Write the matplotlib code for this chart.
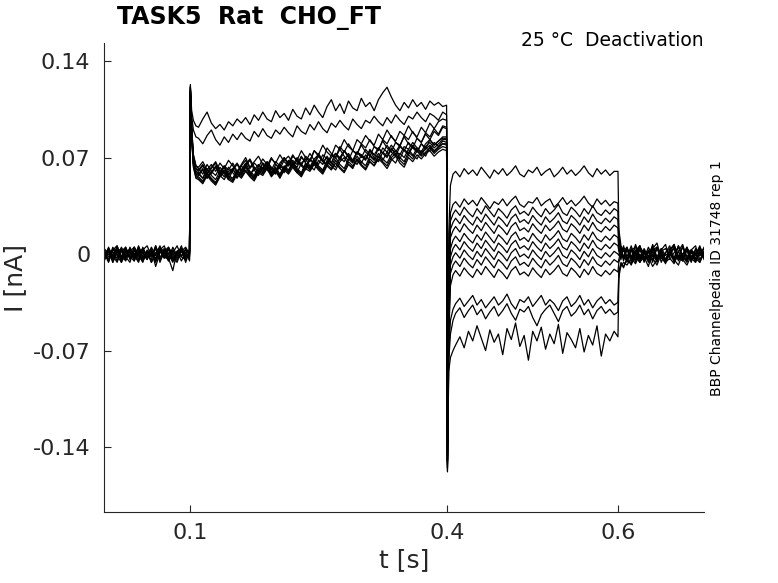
import numpy as np
import matplotlib
matplotlib.use('Agg')
import matplotlib.pyplot as plt

# time grid of each protocol segment, in ms
t_base = [0, 5, 10, 15, 20, 25, 30, 35, 40, 45, 50, 55, 60, 65, 70, 75, 80, 85,
          90, 95, 99.5]
t_act = [100.5, 102, 104, 107,
         110, 115, 120, 125, 130, 135, 140, 145, 150, 155, 160, 165, 170, 175,
         180, 185, 190, 195, 200, 205, 210, 215, 220, 225, 230, 235, 240, 245,
         250, 255, 260, 265, 270, 275, 280, 285, 290, 295, 300, 305, 310, 315,
         320, 325, 330, 335, 340, 345, 350, 355, 360, 365, 370, 375, 380, 385,
         390, 395, 399.5]
t_deact = [400.5, 402, 404, 407,
           410, 415, 420, 425, 430, 435, 440, 445, 450, 455, 460, 465, 470,
           475, 480, 485, 490, 495, 500, 505, 510, 515, 520, 525, 530, 535,
           540, 545, 550, 555, 560, 565, 570, 575, 580, 585, 590, 595, 599.5]
t_tail = [600.5, 603, 606, 610, 615, 620, 625, 630, 635, 640, 645, 650, 655,
          660, 665, 670, 675, 680, 685, 690, 695, 700]

# currents in pA, one row per sweep
base_pA = [
    [2, -4, 5, -1, -6, 3, 1, -3, 6, -2, 0, 4, -5, 2, -1, 5, -3, -6, 3, 1, -2],
    [-3, 4, -1, -6, 2, 5, -2, 0, -5, 3, 6, -1, -4, 2, -3, 4, 1, -5, 3, -2, 1],
    [1, -5, 3, 6, -2, -4, 2, 5, -1, -6, 3, 0, -3, 4, 2, -5, 1, 6, -2, -4, 2],
    [-2, 3, -6, 1, 4, -3, 2, -5, 5, 0, -4, 3, -1, 6, -3, 1, -5, 2, 4, -2, 0],
    [4, 0, -3, 6, -5, 2, -1, 3, -4, 5, -2, 1, -6, 3, 0, -3, 5, -1, 2, -4, 1],
    [-5, 2, 1, -3, 5, -2, 4, -1, -6, 3, 0, -4, 6, -2, 1, -5, 3, -3, 2, 5, 0],
    [2, -5, 4, 0, -3, 5, -4, 2, 3, -5, 1, -2, 4, -6, 2, 5, -1, -3, 3, 0, -4],
    [-1, 3, -6, 4, 2, -4, 5, -2, 0, 4, -3, 1, -5, 3, 6, -2, -4, 1, 3, -6, 2],
    [3, -2, 2, -5, 4, 1, -3, 5, -2, -4, 2, -6, 0, 3, -1, 4, -3, 2, -5, 1, 3],
    [-4, 5, -2, 3, -1, -5, 3, 0, 4, -3, 2, -6, 1, 5, -2, -4, 3, -1, 6, -3, 1],
    [1, -6, 3, 2, -4, 4, -2, -5, 2, 1, -3, 5, -1, -4, 3, 0, -6, 2, 4, -2, -1],
    [-3, 2, -1, 5, -6, 0, 4, -3, 1, -5, 2, -2, 6, -4, 0, 3, -5, 1, -2, 4, -1],
    [0, 4, -4, 1, 3, -2, -6, 5, -1, 2, -4, 3, -9, 1, 4, -3, -12, 2, -1, 3, -5],
]
act_pA = [
    [121, 104, 97, 93,
     92, 98, 103, 95, 91, 94, 90, 96, 93, 98, 95, 99, 94, 101, 97, 103, 98, 96, 104, 99,
     102, 97, 105, 100, 98, 106, 101, 108, 103, 99, 107, 112, 104, 109, 102, 111, 106, 104, 113, 107,
     110, 104, 112, 117, 121, 114, 108, 104, 110, 106, 112, 107, 110, 105, 111, 108, 110, 107, 108],
    [119, 100, 90, 85,
     84, 80, 86, 90, 83, 79, 85, 81, 87, 83, 88, 84, 82, 89, 85, 91, 86, 84, 90, 87,
     92, 88, 85, 93, 89, 87, 94, 90, 96, 91, 88, 95, 92, 97, 93, 90, 98, 94, 91, 97,
     95, 100, 96, 93, 99, 95, 101, 97, 94, 100, 98, 103, 99, 96, 102, 100, 97, 103, 101],
    [122, 92, 72, 64,
     62, 58, 65, 60, 63, 57, 64, 61, 66, 60, 64, 68, 62, 66, 63, 69, 65, 61, 67, 64,
     70, 66, 72, 67, 64, 71, 68, 75, 71, 68, 77, 73, 70, 78, 74, 80, 75, 72, 80, 77,
     83, 78, 75, 83, 80, 86, 81, 78, 86, 83, 89, 84, 81, 88, 85, 91, 87, 93, 92],
    [120, 90, 68, 60,
     58, 62, 55, 60, 57, 63, 59, 54, 61, 58, 64, 60, 57, 63, 59, 66, 61, 58, 65, 62,
     59, 66, 63, 68, 64, 61, 69, 65, 71, 67, 64, 70, 73, 68, 75, 71, 67, 74, 70, 76,
     72, 69, 77, 73, 79, 74, 71, 78, 75, 81, 77, 74, 80, 76, 83, 79, 82, 84, 84],
    [118, 88, 69, 62,
     60, 64, 58, 62, 66, 59, 63, 57, 61, 65, 60, 64, 68, 61, 65, 62, 67, 63, 60, 66,
     70, 64, 68, 65, 71, 66, 63, 69, 72, 67, 70, 66, 73, 69, 75, 70, 67, 74, 71, 68,
     75, 72, 77, 73, 70, 76, 74, 79, 75, 72, 78, 74, 80, 77, 75, 81, 78, 82, 81],
    [117, 86, 65, 57,
     56, 53, 59, 55, 52, 58, 61, 56, 54, 60, 57, 63, 58, 55, 61, 59, 64, 58, 62, 57,
     63, 60, 66, 61, 58, 65, 62, 67, 63, 60, 68, 64, 61, 67, 70, 65, 62, 69, 66, 72,
     67, 64, 71, 68, 74, 69, 66, 73, 70, 76, 72, 69, 75, 71, 78, 74, 77, 80, 80],
    [121, 89, 68, 60,
     59, 55, 62, 58, 64, 60, 56, 63, 59, 55, 61, 66, 60, 57, 64, 61, 67, 62, 59, 65,
     62, 68, 64, 70, 65, 62, 69, 66, 73, 68, 65, 72, 70, 76, 71, 68, 75, 73, 79, 74,
     71, 78, 76, 82, 77, 74, 81, 79, 85, 80, 77, 84, 81, 87, 83, 89, 86, 92, 91],
    [123, 92, 72, 64,
     63, 67, 61, 65, 60, 66, 62, 68, 64, 59, 65, 70, 63, 67, 71, 65, 62, 69, 66, 72,
     67, 64, 71, 68, 75, 70, 67, 75, 72, 79, 74, 71, 79, 76, 83, 78, 75, 83, 80, 86,
     82, 79, 87, 83, 90, 85, 82, 89, 86, 93, 88, 85, 92, 88, 95, 91, 96, 98, 97],
    [118, 87, 66, 58,
     57, 61, 55, 59, 63, 57, 54, 60, 62, 56, 59, 64, 58, 61, 57, 63, 66, 60, 58, 64,
     61, 67, 63, 59, 66, 69, 64, 61, 68, 65, 71, 66, 63, 70, 67, 73, 68, 65, 72, 69,
     75, 70, 67, 74, 71, 77, 72, 69, 76, 73, 79, 75, 72, 78, 81, 77, 80, 83, 83],
    [121, 89, 70, 62,
     61, 65, 59, 63, 67, 60, 64, 58, 62, 66, 61, 65, 69, 63, 60, 66, 64, 70, 65, 62,
     68, 71, 66, 63, 70, 67, 73, 68, 65, 72, 69, 66, 73, 70, 75, 71, 68, 74, 72, 69,
     76, 72, 70, 77, 74, 79, 75, 72, 78, 76, 81, 77, 74, 80, 83, 79, 82, 85, 85],
    [116, 85, 64, 56,
     55, 52, 58, 54, 51, 57, 60, 55, 53, 59, 56, 61, 57, 54, 60, 58, 63, 57, 61, 56,
     62, 59, 65, 60, 57, 64, 61, 66, 62, 59, 65, 62, 68, 63, 60, 67, 64, 69, 65, 62,
     69, 66, 71, 67, 64, 70, 73, 68, 65, 72, 69, 75, 71, 74, 77, 73, 76, 78, 77],
    [119, 87, 66, 58,
     58, 55, 61, 57, 54, 60, 63, 57, 55, 61, 58, 64, 59, 56, 62, 60, 65, 59, 63, 58,
     64, 61, 67, 62, 59, 66, 63, 68, 64, 61, 67, 64, 70, 65, 62, 69, 66, 71, 67, 64,
     71, 68, 73, 69, 66, 72, 75, 70, 67, 74, 71, 77, 73, 76, 79, 75, 78, 80, 79],
    [115, 84, 63, 55,
     54, 51, 57, 53, 50, 56, 59, 54, 52, 58, 55, 60, 56, 53, 59, 57, 62, 56, 60, 55,
     61, 58, 63, 59, 56, 62, 60, 65, 61, 58, 64, 61, 66, 62, 59, 65, 63, 68, 64, 61,
     67, 64, 69, 66, 62, 68, 71, 66, 63, 70, 67, 72, 69, 73, 75, 71, 74, 76, 75],
]
deact_pA = [
    [-150, 15, 50, 58,
     60, 56, 62, 58, 61, 57, 63, 59, 55, 61, 58, 62, 57, 60, 64, 58, 56, 61, 59, 63,
     57, 60, 62, 56, 59, 63, 58, 61, 57, 60, 64, 59, 56, 62, 58, 61, 57, 60, 60],
    [-155, -5, 30, 36,
     38, 34, 40, 36, 39, 35, 41, 37, 33, 38, 36, 40, 35, 39, 42, 36, 34, 38, 37, 41,
     35, 38, 40, 34, 37, 41, 36, 39, 35, 38, 42, 37, 34, 40, 36, 39, 35, 38, 37],
    [-148, -12, 24, 29,
     32, 28, 34, 30, 27, 33, 29, 35, 31, 27, 33, 30, 26, 32, 35, 29, 31, 28, 34, 30,
     27, 33, 29, 32, 36, 30, 28, 34, 31, 27, 33, 29, 35, 30, 28, 32, 29, 33, 31],
    [-152, -22, 18, 23,
     26, 22, 28, 24, 21, 27, 23, 29, 25, 21, 27, 24, 20, 26, 29, 23, 25, 22, 28, 24,
     21, 27, 23, 26, 30, 24, 22, 28, 25, 21, 27, 23, 29, 24, 22, 26, 23, 27, 25],
    [-146, -32, 12, 17,
     20, 16, 22, 18, 15, 21, 17, 23, 19, 15, 21, 18, 14, 20, 23, 17, 19, 16, 22, 18,
     15, 21, 17, 20, 24, 18, 16, 22, 19, 15, 21, 17, 23, 18, 16, 20, 17, 21, 19],
    [-150, -42, 4, 10,
     13, 9, 15, 11, 8, 14, 10, 16, 12, 8, 14, 11, 7, 13, 16, 10, 12, 9, 15, 11,
     8, 14, 10, 13, 17, 11, 9, 15, 12, 8, 14, 10, 16, 11, 9, 13, 10, 14, 12],
    [-153, -47, -2, 4,
     7, 3, 9, 5, 2, 8, 4, 10, 6, 2, 8, 5, 1, 7, 10, 4, 6, 3, 9, 5,
     2, 8, 4, 7, 11, 5, 3, 9, 6, 2, 8, 4, 10, 5, 3, 7, 4, 8, 6],
    [-158, -52, -8, -2,
     1, -3, 3, -1, -4, 2, -2, 4, 0, -4, 2, -1, -5, 1, 4, -2, 0, -3, 3, -1,
     -4, 2, -2, 1, 5, -1, -3, 3, 0, -4, 2, -2, 4, -1, -3, 1, -2, 2, 0],
    [-151, -57, -14, -8,
     -5, -9, -3, -7, -10, -4, -8, -2, -6, -10, -4, -7, -11, -5, -2, -8, -6, -9, -3, -7,
     -10, -4, -8, -5, -1, -7, -9, -3, -6, -10, -4, -8, -2, -7, -9, -5, -8, -4, -6],
    [-149, -62, -23, -15,
     -12, -16, -10, -14, -17, -11, -15, -9, -13, -17, -11, -14, -18, -12, -9, -15, -13, -16, -10, -14,
     -17, -11, -15, -12, -8, -14, -16, -10, -13, -17, -11, -15, -9, -14, -16, -12, -15, -11, -13],
    [-150, -72, -48, -40,
     -36, -32, -38, -34, -30, -37, -33, -39, -35, -31, -37, -34, -29, -36, -40, -33, -35, -31, -38, -34,
     -30, -37, -33, -36, -41, -34, -31, -38, -35, -30, -37, -33, -39, -34, -31, -36, -33, -37, -35],
    [-155, -78, -58, -48,
     -43, -39, -46, -41, -37, -44, -40, -47, -42, -38, -45, -41, -36, -43, -48, -40, -42, -38, -46, -52,
     -44, -40, -37, -43, -49, -41, -38, -45, -42, -37, -44, -40, -47, -41, -38, -43, -40, -44, -42],
    [-157, -85, -75, -70,
     -66, -60, -68, -56, -63, -52, -61, -70, -55, -64, -58, -73, -54, -62, -50, -67, -59, -77, -56, -63,
     -53, -69, -58, -65, -51, -72, -57, -62, -68, -54, -71, -59, -66, -52, -74, -58, -63, -56, -60],
]
tail_pA = [
    [18, 6, 2, 5, -4, 7, -2, 3, -6, 4, 8, -3, 1, 6, -5, 2, 7, -4, 3, -1, 6, -3],
    [14, 3, -2, -5, 4, -1, 6, -3, 2, -6, 5, 0, -4, 3, 7, -2, -5, 4, 1, -3, 5, -1],
    [11, -2, 4, -6, 3, 5, -3, 1, -5, 6, -2, 4, -4, 2, 7, -5, 0, 3, -6, 4, -1, 5],
    [8, 5, -3, 4, -6, 2, 6, -3, 5, -1, -5, 3, 7, -4, 1, 5, -2, -6, 3, 6, -4, 2],
    [5, -2, 6, -4, 3, -6, 5, 1, -3, 7, -5, 2, 4, -2, 6, -4, 0, 5, -5, 3, -1, 4],
    [3, 5, -3, 4, -5, 2, 6, -4, 3, -2, 5, -6, 1, 4, -3, 6, -1, -5, 3, 0, 5, -4],
    [2, -4, 5, -2, 6, -5, 3, -3, 1, 5, -6, 4, -1, 2, -4, 6, -3, 3, -5, 1, 4, -2],
    [-1, 4, -3, 5, -4, 3, -6, 4, -2, 6, -3, 2, -5, 0, 4, -4, 6, -2, 3, -5, 2, -1],
    [-4, 3, -5, 4, -2, 6, -4, 2, -5, 3, 5, -3, -6, 1, 4, -2, 5, -4, 2, -6, 3, 0],
    [-6, -2, 4, -5, 3, -3, 5, -6, 2, -4, 4, 0, -5, 3, 6, -2, -4, 5, -3, 1, -6, 2],
    [-12, -7, -9, -4, -7, -2, -6, 1, -5, -3, -8, 0, -4, 2, -6, -1, -5, 3, -3, -6, 1, -2],
    [-14, -9, -6, -8, -3, -7, 0, -5, -2, -9, -4, 1, -6, -3, -7, 2, -4, -8, -1, -5, 0, -3],
    [-18, -6, -10, -3, -8, 1, -6, -2, -9, 2, -5, -1, -7, 3, -4, -8, 0, -5, 2, -3, -6, 1],
]

title = 'TASK5  Rat  CHO_FT'
condition = '25 \u00b0C  Deactivation'
source = 'BBP Channelpedia ID 31748 rep 1'
xticks = [0.1, 0.4, 0.6]
yticks = [-0.14, -0.07, 0, 0.07, 0.14]
yticklabels = ['-0.14', '-0.07', '0', '0.07', '0.14']


def main():
    axis_col = '#262626'
    fig = plt.figure(figsize=(7.78, 5.83), dpi=100)
    ax = fig.add_axes([0.134, 0.122, 0.771, 0.804])

    t = np.array(t_base + t_act + t_deact + t_tail) / 1000.0
    for k in range(len(base_pA)):
        i = np.array(base_pA[k] + act_pA[k] + deact_pA[k] + tail_pA[k]) / 1000.0
        assert len(i) == len(t), (k, len(i), len(t))
        ax.plot(t, i, color='black', linewidth=0.9)

    ax.set_xlim(0, 0.7)
    ax.set_ylim(-0.187, 0.153)
    ax.set_xticks(xticks)
    ax.set_xticklabels([str(x) for x in xticks])
    ax.set_yticks(yticks)
    ax.set_yticklabels(yticklabels)

    for s in ['top', 'right']:
        ax.spines[s].set_visible(False)
    for s in ['left', 'bottom']:
        ax.spines[s].set_color(axis_col)
        ax.spines[s].set_linewidth(0.8)
    ax.tick_params(direction='in', length=5, width=0.8, colors=axis_col,
                   labelsize=16)
    ax.tick_params(axis='y', pad=10)
    ax.tick_params(axis='x', pad=8)

    ax.set_xlabel('t [s]', fontsize=18, color=axis_col, labelpad=4)
    ax.set_ylabel('I [nA]', fontsize=18, color=axis_col, labelpad=4)

    fig.text(0.32, 0.969, title, fontsize=17, fontweight='bold',
             ha='center', va='center')
    fig.text(0.904, 0.931, condition, fontsize=13.5, ha='right', va='center')
    fig.text(0.921, 0.523, source, fontsize=10, rotation=90,
             ha='center', va='center')

    fig.savefig('out.png', dpi=100)


if __name__ == "__main__":
    main()
